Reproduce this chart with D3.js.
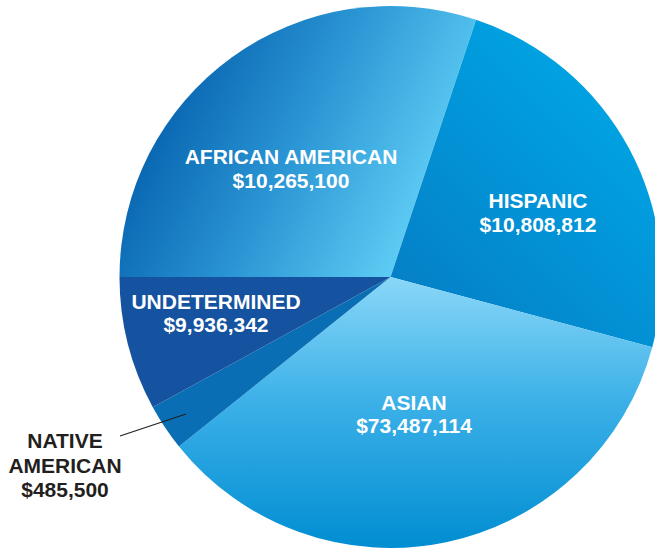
<!DOCTYPE html>
<html>
<head>
<meta charset="utf-8">
<script src="https://cdn.jsdelivr.net/npm/d3@7"></script>
<style>
  html, body { margin: 0; padding: 0; background: #ffffff; }
  svg { display: block; }
</style>
</head>
<body>
<svg id="chart" width="655" height="549"></svg>
<script>
// ---- data ----
const categories = ["AFRICAN AMERICAN", "HISPANIC", "ASIAN", "NATIVE AMERICAN", "UNDETERMINED"];
const amounts = [10265100, 10808812, 73487114, 485500, 9936342];
// slice sizes as drawn in the picture (degrees of the circle)
const sliceDegrees = [108.4, 86.6, 126.3, 10.0, 28.7];

// ---- layout ----
const W = 655, H = 549;
const cx = 390.5, cy = 277, R = 271;
const fmt = d3.format("$,");

const svg = d3.select("#chart");
const defs = svg.append("defs");

// gradients (user space relative to pie centre)
const grads = {
  "AFRICAN AMERICAN": { x1: -225, y1: -198, x2: 32, y2: -72,
    stops: [[0, "#0662ae"], [0.5, "#2a95d4"], [1, "#5ccbf3"]] },
  "HISPANIC": { x1: 0, y1: 0, x2: 200, y2: -200,
    stops: [[0, "#0580c7"], [1, "#00a3e3"]] },
  "ASIAN": { x1: 0, y1: 0, x2: 0, y2: 272,
    stops: [[0, "#8ad7f8"], [0.45, "#3db1e8"], [1, "#008dd2"]] },
  "NATIVE AMERICAN": { x1: 0, y1: 0, x2: 1, y2: 0,
    stops: [[0, "#0a6eb4"], [1, "#0a6eb4"]] },
  "UNDETERMINED": { x1: 0, y1: 0, x2: 1, y2: 0,
    stops: [[0, "#1552a0"], [1, "#1552a0"]] }
};
categories.forEach((c, i) => {
  const g = grads[c];
  const lg = defs.append("linearGradient")
    .attr("id", "grad" + i)
    .attr("gradientUnits", "userSpaceOnUse")
    .attr("x1", g.x1).attr("y1", g.y1).attr("x2", g.x2).attr("y2", g.y2);
  g.stops.forEach(s => lg.append("stop").attr("offset", s[0]).attr("stop-color", s[1]));
});

const pie = d3.pie()
  .sort(null)
  .value(d => d.deg)
  .startAngle(-Math.PI / 2)
  .endAngle(3 * Math.PI / 2);

const data = categories.map((c, i) => ({ cat: c, amount: amounts[i], deg: sliceDegrees[i], i }));
const arcs = pie(data);
const arc = d3.arc().innerRadius(0).outerRadius(R);

const gPie = svg.append("g").attr("transform", `translate(${cx},${cy})`);
gPie.selectAll("path")
  .data(arcs)
  .join("path")
  .attr("d", arc)
  .attr("fill", d => `url(#grad${d.data.i})`);

// ---- labels ----
const labelLayout = {
  "AFRICAN AMERICAN": { x: 291, y: [164, 188], color: "#ffffff", lines: ["AFRICAN AMERICAN"] },
  "HISPANIC": { x: 538, y: [208, 232], color: "#ffffff", lines: ["HISPANIC"] },
  "ASIAN": { x: 414, y: [410, 433], color: "#ffffff", lines: ["ASIAN"] },
  "UNDETERMINED": { x: 216, y: [309, 332], color: "#ffffff", lines: ["UNDETERMINED"] },
  "NATIVE AMERICAN": { x: 65, y: [448, 473, 497], color: "#231f20", lines: ["NATIVE", "AMERICAN"] }
};

const gLab = svg.append("g")
  .attr("font-family", "'Liberation Sans', Arial, Helvetica, sans-serif")
  .attr("font-weight", "bold")
  .attr("font-size", 21)
  .attr("text-anchor", "middle");

data.forEach(d => {
  const L = labelLayout[d.cat];
  const lines = L.lines.concat([fmt(d.amount)]);
  lines.forEach((t, k) => {
    gLab.append("text")
      .attr("x", L.x)
      .attr("y", L.y[k])
      .attr("fill", L.color)
      .text(t);
  });
});

// leader line for Native American
svg.append("line")
  .attr("x1", 120).attr("y1", 436)
  .attr("x2", 186).attr("y2", 414)
  .attr("stroke", "#231f20")
  .attr("stroke-width", 1.3);
</script>
</body>
</html>
